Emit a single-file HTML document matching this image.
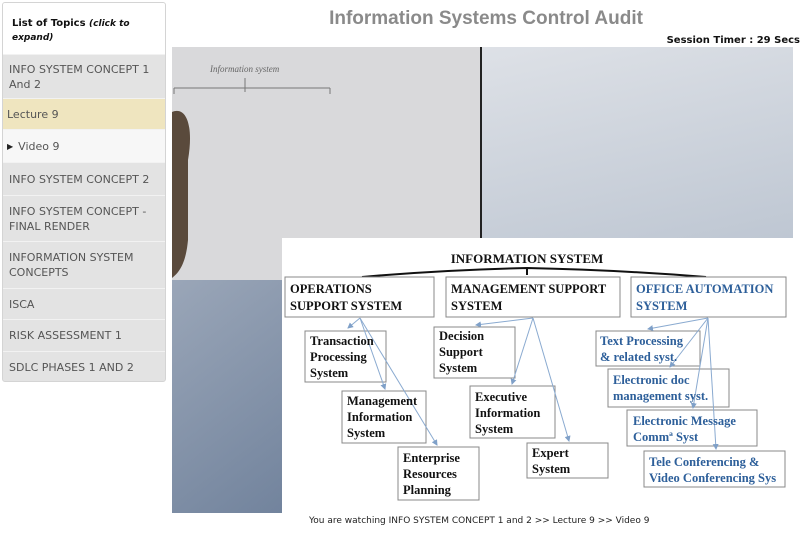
<!DOCTYPE html>
<html><head><meta charset="utf-8"><style>
*{margin:0;padding:0;box-sizing:border-box}
body{width:800px;height:537px;background:#fff;position:relative;overflow:hidden;font-family:"DejaVu Sans","Liberation Sans",sans-serif}
.sb{position:absolute;left:2px;top:2px;width:164px;height:380px;border:1px solid #d4d4d4;border-radius:3px;background:#e3e3e3;overflow:hidden}
.hd{height:51px;background:#fff;padding:14px 9px 0;font-size:10px;font-weight:bold;line-height:13px;color:#111}
.it{position:absolute;left:0;width:162px;border-top:1px solid #f2f2f2;font-size:11px;color:#555;padding:0 6px;line-height:15px;display:flex;align-items:center}
</style></head><body>
<div class="sb">
<div class="hd">List of Topics <i style="font-size:9px">(click to expand)</i></div>
<div class="it" style="top:51px;height:44px">INFO SYSTEM CONCEPT 1 And 2</div>
<div class="it" style="top:95px;height:31px;background:#efe5bf;padding-left:4px">Lecture 9</div>
<div class="it" style="top:126px;height:33px;background:#f7f7f7;padding-left:4px"><span style="font-size:8px;margin-right:5px;color:#222">▶</span>Video 9</div>
<div class="it" style="top:159px;height:33px">INFO SYSTEM CONCEPT 2</div>
<div class="it" style="top:192px;height:46px">INFO SYSTEM CONCEPT - FINAL RENDER</div>
<div class="it" style="top:238px;height:47px">INFORMATION SYSTEM CONCEPTS</div>
<div class="it" style="top:285px;height:31px">ISCA</div>
<div class="it" style="top:316px;height:32px">RISK ASSESSMENT 1</div>
<div class="it" style="top:348px;height:32px">SDLC PHASES 1 AND 2</div>
</div>
<div style="position:absolute;left:172px;width:628px;top:8px;text-align:center;font-family:'Liberation Sans',sans-serif;font-weight:bold;font-size:19px;color:#8a8a8a">Information Systems Control Audit</div>
<div style="position:absolute;right:0;top:35px;font-size:10px;font-weight:bold;color:#111">Session Timer : 29 Secs</div>
<svg style="position:absolute;left:0;top:0" width="800" height="537">
<defs>
<linearGradient id="r" x1="0" y1="0" x2="0.3" y2="1"><stop offset="0" stop-color="#e6e8ec"/><stop offset="1" stop-color="#a9b5c5"/></linearGradient>
<linearGradient id="b" x1="0" y1="0" x2="1" y2="1"><stop offset="0" stop-color="#9aa6b8"/><stop offset="1" stop-color="#5f7390"/></linearGradient>
<marker id="a" markerWidth="6" markerHeight="6" refX="5" refY="3" orient="auto"><path d="M0,0L6,3L0,6z" fill="#7fa0c8"/></marker>
</defs>
<rect x="172" y="47" width="621" height="466" fill="url(#r)"/>
<rect x="172" y="47" width="308" height="233" fill="#d9d9db"/>
<rect x="172" y="280" width="308" height="233" fill="url(#b)"/>
<rect x="480" y="47" width="2" height="191" fill="#222"/>
<path d="M172,112 C186,106 194,125 188,160 L188,240 C186,262 180,272 172,278Z" fill="#5a4a3c"/>
<text x="210" y="72" font-size="9" fill="#666" font-family="Liberation Serif" font-style="italic">Information system</text>
<path d="M174,88 H330 M245,78 V92 M330,88 V94 M174,88 V94" stroke="#777" fill="none"/>
<rect x="282" y="238" width="511" height="275" fill="#fff"/>
<g font-family="Liberation Serif" font-weight="bold" fill="#111">
<text x="527" y="263" font-size="13" text-anchor="middle">INFORMATION SYSTEM</text>
<path d="M527,268 Q440,270 362,277 M527,268 Q620,270 706,277 M527,268 V275" stroke="#111" stroke-width="2" fill="none"/>
<g fill="#fff" stroke="#888" stroke-width="1">
<rect x="285" y="277" width="149" height="40"/><rect x="446" y="277" width="174" height="40"/><rect x="631" y="277" width="155" height="40"/>
<rect x="305" y="331" width="81" height="51"/><rect x="342" y="391" width="84" height="52"/><rect x="398" y="447" width="81" height="53"/>
<rect x="434" y="327" width="81" height="51"/><rect x="470" y="386" width="85" height="52"/><rect x="527" y="443" width="81" height="35"/>
<rect x="596" y="331" width="104" height="35"/><rect x="608" y="369" width="121" height="38"/><rect x="627" y="410" width="130" height="36"/><rect x="644" y="451" width="141" height="36"/>
</g>
<g stroke="#8aaad0" stroke-width="1" fill="none" marker-end="url(#a)">
<path d="M360,318 L348,328"/><path d="M360,318 L385,389"/><path d="M360,318 L437,445"/>
<path d="M533,318 L476,325"/><path d="M533,318 L512,384"/><path d="M533,318 L569,441"/>
<path d="M708,318 L648,329"/><path d="M708,318 L670,367"/><path d="M708,318 L693,408"/><path d="M708,318 L716,449"/>
</g>
<g font-size="12.5">
<text x="290" y="293">OPERATIONS</text><text x="290" y="310">SUPPORT SYSTEM</text>
<text x="451" y="293">MANAGEMENT SUPPORT</text><text x="451" y="310">SYSTEM</text>
<text x="636" y="293" fill="#2d5f9a">OFFICE AUTOMATION</text><text x="636" y="310" fill="#2d5f9a">SYSTEM</text>
</g>
<g font-size="12.5">
<text x="310" y="345">Transaction</text><text x="310" y="361">Processing</text><text x="310" y="377">System</text>
<text x="347" y="405">Management</text><text x="347" y="421">Information</text><text x="347" y="437">System</text>
<text x="403" y="462">Enterprise</text><text x="403" y="478">Resources</text><text x="403" y="494">Planning</text>
<text x="439" y="340">Decision</text><text x="439" y="356">Support</text><text x="439" y="372">System</text>
<text x="475" y="401">Executive</text><text x="475" y="417">Information</text><text x="475" y="433">System</text>
<text x="532" y="457">Expert</text><text x="532" y="473">System</text>
<g fill="#2d5f9a">
<text x="600" y="345">Text Processing</text><text x="600" y="361">&amp; related syst.</text>
<text x="613" y="384">Electronic doc</text><text x="613" y="400">management syst.</text>
<text x="633" y="425">Electronic Message</text><text x="633" y="441">Comm&#170; Syst</text>
<text x="649" y="466">Tele Conferencing &amp;</text><text x="649" y="482">Video Conferencing Sys</text>
</g></g></g>
</svg>
<div style="position:absolute;left:309px;top:516px;font-size:9px;color:#222">You are watching INFO SYSTEM CONCEPT 1 and 2 &gt;&gt; Lecture 9 &gt;&gt; Video 9</div>
</body></html>
